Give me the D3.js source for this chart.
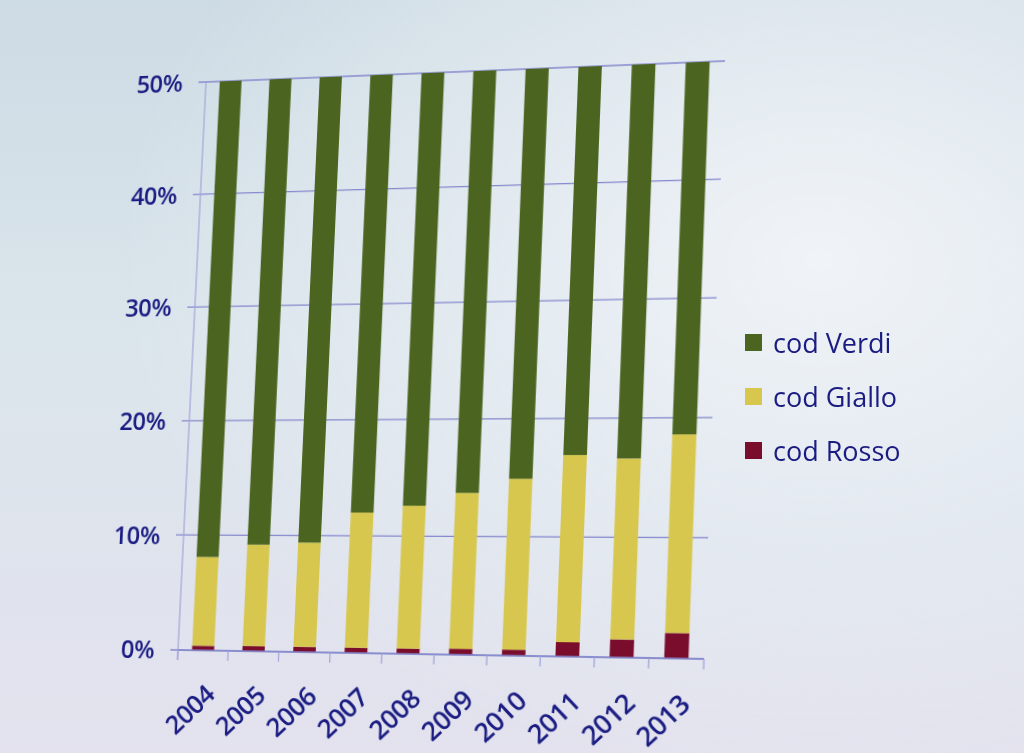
<!DOCTYPE html>
<html><head><meta charset="utf-8">
<script src="https://cdn.jsdelivr.net/npm/d3@7"></script>
<style>
html,body{margin:0;padding:0;width:1024px;height:753px;overflow:hidden;}
body{background:
 radial-gradient(ellipse 700px 520px at 820px 260px, rgba(240,243,247,1) 0%, rgba(232,238,243,0.7) 45%, rgba(232,238,243,0) 100%),
 linear-gradient(180deg, #cddbe4 0%, #dbe5ec 45%, #e3e2ee 100%);}
svg{position:absolute;left:0;top:0;overflow:visible;}
#chart{transform-origin:0 0;}
text{font-family:"Open Sans",sans-serif;fill:#1a1c82;}
</style></head>
<body>
<svg id="chart" width="1024" height="753"></svg>
<svg id="legend" width="1024" height="753"></svg>
<script>
const years = ['2004','2005','2006','2007','2008','2009','2010','2011','2012','2013'];
const rosso = [0.4,0.45,0.45,0.45,0.45,0.5,0.5,1.2,1.5,2.1];
const giallo = [7.7,8.75,8.95,11.55,12.15,13.2,14.4,15.7,15.1,16.5];
const verdi = [41.9,40.8,40.6,38.0,37.4,36.3,35.1,33.1,33.4,31.4];
const yTicks = [0,10,20,30,40,50];
const seriesKeys = ['rosso','giallo','verdi'];
const legendLabels = ['cod Verdi','cod Giallo','cod Rosso'];
const legendKeys = ['verdi','giallo','rosso'];
const colors = {verdi:'#4b6520', giallo:'#d7c74e', rosso:'#7a0c2c'};

const table = years.map((y,i)=>({year:y, rosso:rosso[i], giallo:giallo[i], verdi:verdi[i]}));

// flat layout
const x0=192, y0=72, W=522, H=583;
const svg = d3.select('#chart');
const x = d3.scaleBand().domain(years).range([x0,x0+W]).paddingInner(0.56).paddingOuter(0.28);
const y = d3.scaleLinear().domain([0,50]).range([y0+H,y0]);
const gridColor = '#8588cd';

// gridlines
svg.append('g').selectAll('line').data(yTicks).join('line')
  .attr('x1',x0-8).attr('x2',x0+W).attr('y1',d=>y(d)).attr('y2',d=>y(d))
  .attr('stroke',gridColor).attr('stroke-width',1.3);
// y axis line
svg.append('line').attr('x1',x0).attr('x2',x0).attr('y1',y0).attr('y2',y0+H+10)
  .attr('stroke','#a0a3d8').attr('stroke-width',1.2);
// y labels
const ya = d3.axisLeft(y).tickValues(yTicks).tickFormat(d=>d+'%').tickSize(0).tickPadding(25);
const yg = svg.append('g').attr('transform',`translate(${x0},0)`).call(ya);
yg.select('.domain').remove();
yg.selectAll('text').style('font-size','25px').style('font-weight','600').style('font-family','"Open Sans",sans-serif')
  .attr('fill','#1a1c82').attr('dy','0.35em').attr('letter-spacing','-0.5');

// bars
const stack = d3.stack().keys(seriesKeys)(table);
svg.append('g').selectAll('g').data(stack).join('g').attr('fill',d=>colors[d.key])
  .selectAll('rect').data(d=>d).join('rect')
  .attr('x',d=>x(d.data.year)).attr('width',x.bandwidth())
  .attr('y',d=>y(d[1])).attr('height',d=>y(d[0])-y(d[1]));

// x axis line and boundary ticks
svg.append('line').attr('x1',x0).attr('x2',x0+W).attr('y1',y0+H).attr('y2',y0+H)
  .attr('stroke',gridColor).attr('stroke-width',1.3);
svg.append('g').selectAll('line').data(d3.range(years.length+1)).join('line')
  .attr('x1',i=>x0+i*x.step()).attr('x2',i=>x0+i*x.step())
  .attr('y1',y0+H).attr('y2',y0+H+10).attr('stroke','#a0a3d8').attr('stroke-width',1.2);
const xa = d3.axisBottom(x).tickSize(0).tickPadding(0);
const xg = svg.append('g').attr('transform',`translate(0,${y0+H})`).call(xa);
xg.select('.domain').remove();
xg.selectAll('text').style('font-size','26px').style('font-weight','600').style('font-family','"Open Sans",sans-serif')
  .attr('fill','#1a1c82').attr('text-anchor','end').attr('dy',null).attr('y',null).attr('letter-spacing','-0.5')
  .attr('transform','translate(16,46) rotate(-45)');

// homography: flat plot corners -> photographed corners
function homography(src,dst){
  const A=[],B=[];
  for(let k=0;k<4;k++){
    const [xs,ys]=src[k],[u,v]=dst[k];
    A.push([xs,ys,1,0,0,0,-xs*u,-ys*u]);B.push(u);
    A.push([0,0,0,xs,ys,1,-xs*v,-ys*v]);B.push(v);
  }
  const n=8;
  for(let i=0;i<n;i++){
    let p=i;for(let r=i+1;r<n;r++) if(Math.abs(A[r][i])>Math.abs(A[p][i])) p=r;
    [A[i],A[p]]=[A[p],A[i]];[B[i],B[p]]=[B[p],B[i]];
    for(let r=0;r<n;r++){ if(r===i) continue; const f=A[r][i]/A[i][i];
      for(let c=i;c<n;c++) A[r][c]-=f*A[i][c]; B[r]-=f*B[i]; }
  }
  return B.map((b,i)=>b/A[i][i]);
}
const [a,b,c,d,e,f,g,h] = homography(
  [[x0,y0],[x0+W,y0],[x0+W,y0+H],[x0,y0+H]],
  [[206,82],[725,61],[704,659],[178,650]]);
document.getElementById('chart').style.transform =
  `matrix3d(${a},${d},0,${g},${b},${e},0,${h},0,0,1,0,${c},${f},0,1)`;

// legend
const lg = d3.select('#legend').append('g');
const items = lg.selectAll('g').data(legendKeys).join('g')
  .attr('transform',(k,i)=>`translate(745,${343+i*54})`);
items.append('rect').attr('x',0).attr('y',-9).attr('width',17).attr('height',17).attr('fill',k=>colors[k]);
items.append('text').attr('x',28).attr('y',0).attr('dy','0.36em')
  .style('font-size','27px').style('font-weight','500').text((k,i)=>legendLabels[i]);
</script>
</body></html>
